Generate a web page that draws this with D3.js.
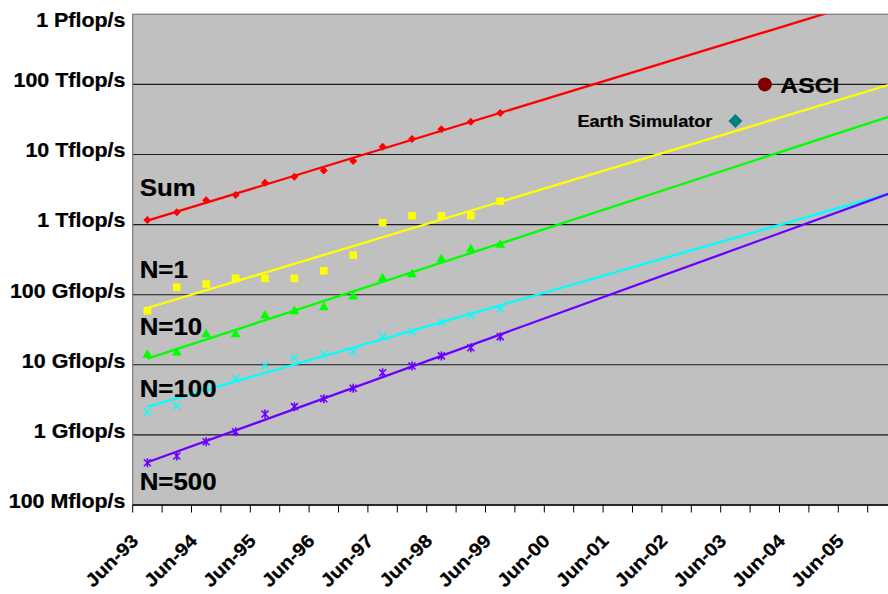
<!DOCTYPE html>
<html>
<head>
<meta charset="utf-8">
<script src="https://cdn.jsdelivr.net/npm/d3@7"></script>
<style>
  html, body { margin: 0; padding: 0; background: #fff; }
  svg { display: block; }
  text { font-family: "Liberation Sans", Arial, Helvetica, sans-serif; font-weight: bold; fill: #000; stroke: #000; stroke-width: 0.25; }
</style>
</head>
<body>
<svg id="chart" width="888" height="594"></svg>
<script>
// Half-yearly TOP500 list dates
const periods = [
  "Jun-93","Nov-93","Jun-94","Nov-94","Jun-95","Nov-95","Jun-96","Nov-96",
  "Jun-97","Nov-97","Jun-98","Nov-98","Jun-99","Nov-99","Jun-00","Nov-00",
  "Jun-01","Nov-01","Jun-02","Nov-02","Jun-03","Nov-03","Jun-04","Nov-04",
  "Jun-05","Nov-05"
];
const xTickLabels = periods.filter(p => p.startsWith("Jun"));

// Measured performance, Gflop/s, Jun-93 .. Jun-99
const sumPerf  = [1167, 1495, 2220, 2640, 3960, 4820, 5910, 8080, 12900, 16600, 22900, 29400, 39100];
const n1Perf   = [59.1, 127.6, 142, 171, 171, 171, 220, 368, 1064, 1340, 1340, 1340, 2150];
const n10Perf  = [13.8, 14.9, 27.2, 27.2, 50.2, 58, 66, 93.6, 171, 195, 320, 444, 512];
const n100Perf = [2.10, 2.58, 4.78, 6.34, 9.71, 12.5, 14.1, 15.4, 25.2, 29.7, 40.4, 50.8, 62.5];
const n500Perf = [0.401, 0.50, 0.80, 1.11, 1.99, 2.53, 3.28, 4.62, 7.71, 9.61, 13.4, 17.5, 25.2];

// Logarithmic performance axis (Gflop/s)
const yTickValues = [0.1, 1, 10, 100, 1e3, 1e4, 1e5, 1e6];
const yTickLabels = ["100 Mflop/s","1 Gflop/s","10 Gflop/s","100 Gflop/s",
                     "1 Tflop/s","10 Tflop/s","100 Tflop/s","1 Pflop/s"];

// Individual systems
const asciSystem     = { period: "Nov-03", value: 1e5, label: "ASCI" };
const earthSimulator = { period: "Jun-03", value: 3.0e4, label: "Earth Simulator" };

// Series name labels, placed at a performance level on the left side
const seriesLabelText  = ["Sum", "N=1", "N=10", "N=100", "N=500"];
const seriesLabelLevel = [2600, 173, 27, 3.47, 0.164];

const series = [
  { key: "sum",  values: sumPerf,  color: "#ff0000", marker: "diamond" },
  { key: "n1",   values: n1Perf,   color: "#ffff00", marker: "square" },
  { key: "n10",  values: n10Perf,  color: "#00ff00", marker: "triangle" },
  { key: "n100", values: n100Perf, color: "#00ffff", marker: "cross" },
  { key: "n500", values: n500Perf, color: "#6a00ff", marker: "star" }
];

const W = 888, H = 594;
const plot = { left: 132.7, top: 14.3, bottom: 505, step: 29.4 };
plot.right = plot.left + plot.step * periods.length;

const svg = d3.select("#chart");
const TEXT_STRETCH = 1.1;

const x = d3.scaleBand().domain(periods).range([plot.left, plot.right]).paddingInner(0).paddingOuter(0);
const xc = p => x(p) + x.bandwidth() / 2;
const xi = i => plot.left + (i + 0.5) * x.step();
const y = d3.scaleLog().domain([0.1, 1e6]).range([plot.bottom, plot.top]);

svg.append("rect").attr("width", W).attr("height", H).attr("fill", "#fff");

const defs = svg.append("defs");
defs.append("clipPath").attr("id", "plotClip")
  .append("rect")
  .attr("x", plot.left).attr("y", plot.top)
  .attr("width", plot.right - plot.left).attr("height", plot.bottom - plot.top);

// Plot background
svg.append("rect")
  .attr("x", plot.left).attr("y", plot.top)
  .attr("width", plot.right - plot.left).attr("height", plot.bottom - plot.top)
  .attr("fill", "#c0c0c0");

// Horizontal gridlines
svg.append("g").selectAll("line")
  .data(yTickValues.slice(1, -1))
  .join("line")
  .attr("x1", plot.left).attr("x2", plot.right)
  .attr("y1", d => y(d)).attr("y2", d => y(d))
  .attr("stroke", "#1a1a1a").attr("stroke-width", 1.1);

// Plot border
svg.append("rect")
  .attr("x", plot.left).attr("y", plot.top)
  .attr("width", plot.right - plot.left).attr("height", plot.bottom - plot.top)
  .attr("fill", "none").attr("stroke", "#808080").attr("stroke-width", 1.3);

const plotG = svg.append("g").attr("clip-path", "url(#plotClip)");

// Exponential trend (least squares on log10), projected to the end of the axis
function trend(values) {
  const n = values.length;
  const ly = values.map(v => Math.log10(v));
  const mx = d3.mean(d3.range(n));
  const my = d3.mean(ly);
  let sxy = 0, sxx = 0;
  for (let i = 0; i < n; i++) { sxy += (i - mx) * (ly[i] - my); sxx += (i - mx) * (i - mx); }
  const b = sxy / sxx, a = my - b * mx;
  return i => Math.pow(10, a + b * i);
}

const trendEnd = periods.length - 0.5;
series.forEach(s => {
  const f = trend(s.values);
  const pts = [0, trendEnd].map(i => [xi(i), y(f(i))]);
  plotG.append("path")
    .attr("d", d3.line()(pts))
    .attr("fill", "none").attr("stroke", s.color).attr("stroke-width", 2.3);
});

// Data markers
function drawMarker(g, kind, color, cx, cy) {
  if (kind === "diamond") {
    g.append("path").attr("d", d3.symbol(d3.symbolSquare, 32)())
      .attr("transform", `translate(${cx},${cy}) rotate(45)`).attr("fill", color);
  } else if (kind === "square") {
    g.append("path").attr("d", d3.symbol(d3.symbolSquare, 58)())
      .attr("transform", `translate(${cx},${cy})`).attr("fill", color);
  } else if (kind === "triangle") {
    g.append("path").attr("d", d3.symbol(d3.symbolTriangle, 42)())
      .attr("transform", `translate(${cx},${cy})`).attr("fill", color);
  } else if (kind === "cross") {
    const r = 3.7;
    g.append("path").attr("d", `M${-r},${-r}L${r},${r}M${-r},${r}L${r},${-r}`)
      .attr("transform", `translate(${cx},${cy})`)
      .attr("stroke", color).attr("stroke-width", 1.3).attr("fill", "none");
  } else if (kind === "star") {
    const r = 3.5;
    g.append("path").attr("d", `M${-r},${-r}L${r},${r}M${-r},${r}L${r},${-r}M0,${-r - 1}L0,${r + 1}`)
      .attr("transform", `translate(${cx},${cy})`)
      .attr("stroke", color).attr("stroke-width", 1.6).attr("fill", "none");
  }
}

series.forEach(s => {
  const g = plotG.append("g");
  s.values.forEach((v, i) => drawMarker(g, s.marker, s.color, xc(periods[i]), y(v)));
});

// Individual systems
plotG.append("circle")
  .attr("cx", xc(asciSystem.period)).attr("cy", y(asciSystem.value))
  .attr("r", 7).attr("fill", "#800000");
plotG.append("path")
  .attr("d", d3.symbol(d3.symbolSquare, 98)())
  .attr("transform", `translate(${xc(earthSimulator.period)},${y(earthSimulator.value)}) rotate(45)`)
  .attr("fill", "#008080");

function stretchedText(g, str, tx, ty, size, anchor, rot) {
  return g.append("text")
    .attr("transform", `translate(${tx},${ty})` + (rot ? ` rotate(${rot})` : "") + ` scale(${TEXT_STRETCH},1)`)
    .attr("font-size", size)
    .attr("text-anchor", anchor)
    .text(str);
}

const labelsG = svg.append("g");
stretchedText(labelsG, asciSystem.label,
  xc(asciSystem.period) + 15.5, y(asciSystem.value) + 8.3, 22.5, "start");
stretchedText(labelsG, earthSimulator.label,
  xc(earthSimulator.period) - 23, y(earthSimulator.value) + 5.5, 16.5, "end");

// Series names
seriesLabelText.forEach((t, i) =>
  stretchedText(labelsG, t, plot.left + 7, y(seriesLabelLevel[i]), 23.5, "start"));

// Bottom axis line and ticks between categories
svg.append("line")
  .attr("x1", plot.left).attr("x2", plot.right)
  .attr("y1", plot.bottom).attr("y2", plot.bottom)
  .attr("stroke", "#000").attr("stroke-width", 1.3);
svg.append("g").selectAll("line")
  .data(d3.range(periods.length + 1))
  .join("line")
  .attr("x1", i => plot.left + i * x.step()).attr("x2", i => plot.left + i * x.step())
  .attr("y1", plot.bottom).attr("y2", plot.bottom + 7.5)
  .attr("stroke", "#000").attr("stroke-width", 1);

// Y tick labels
const yAxisG = svg.append("g");
yTickValues.forEach((v, i) => {
  const base = Math.max(y(v) + 2.8, plot.top + 13);
  stretchedText(yAxisG, yTickLabels[i], 125.5, base, 19.5, "end");
});

// X tick labels, rotated
const xAxisG = svg.append("g");
xTickLabels.forEach(p => {
  stretchedText(xAxisG, p, xc(p) - 8, plot.bottom + 37, 18.5, "end", -45);
});
</script>
</body>
</html>
